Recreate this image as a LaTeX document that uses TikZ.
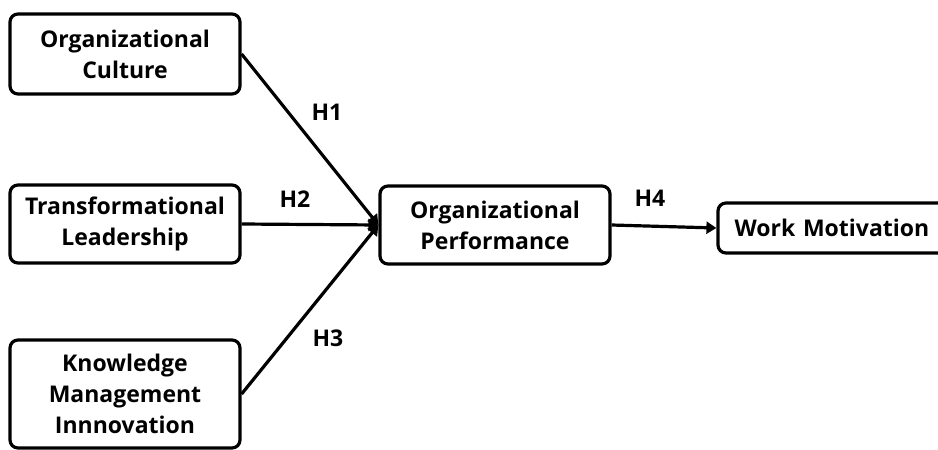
\documentclass[tikz,border=0pt]{standalone}
\usepackage{fontspec}
\setmainfont{Open Sans}
\usetikzlibrary{arrows.meta}
\begin{document}
\begin{tikzpicture}[x=1pt,y=-1pt,
  box/.style={draw,line width=3.2pt,rounded corners=8pt,align=center,
    font=\fontsize{23}{31}\selectfont\bfseries,inner sep=0pt},
  lab/.style={font=\fontsize{23}{26}\selectfont\bfseries},
  conn/.style={line width=3.2pt,-{Triangle[length=10pt,width=12pt]}}]
\useasboundingbox (0,0) rectangle (938,450);
\node[box,minimum width=230pt,minimum height=80pt] (oc) at (125,54) {Organizational\\Culture};
\node[box,minimum width=230pt,minimum height=78pt] (tl) at (125,224) {Transformational\\Leadership};
\node[box,minimum width=230pt,minimum height=108pt] (km) at (125,394) {Knowledge\\Management\\Innnovation};
\node[box,minimum width=230pt,minimum height=78pt] (op) at (495,225) {Organizational\\Performance};
\node[box,minimum width=228pt,minimum height=50pt,text width=210pt] (wm) at (832,228) {Work Motivation\hspace*{8pt}};
\coordinate (tip) at (op.west);
\draw[conn] (oc.east) -- (tip);
\draw[conn] (tl.east) -- (tip);
\draw[conn] (km.east) -- (tip);
\draw[conn] (op.east) -- (wm.west);
\node[lab] (h1) at (327,112) {H1};
\node[lab] (h2) at (295,199) {H2};
\node[lab] (h3) at (328,338) {H3};
\node[lab] (h4) at (650,198) {H4};
\end{tikzpicture}
\end{document}
